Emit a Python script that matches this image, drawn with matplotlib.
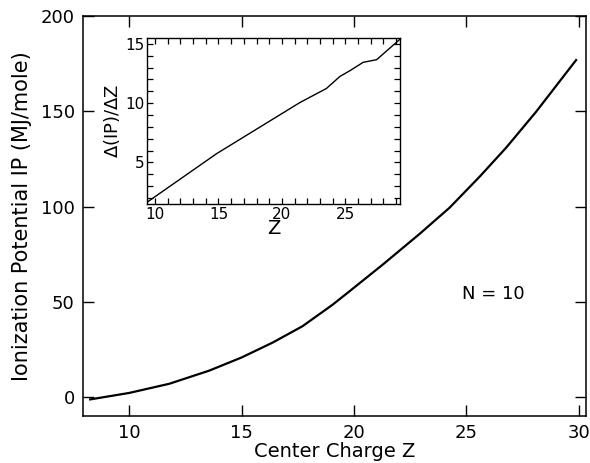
"""Ionization potential vs. center charge Z (N = 10), with inset of d(IP)/dZ."""

import matplotlib
matplotlib.use("Agg")
import matplotlib.pyplot as plt
from matplotlib.ticker import MultipleLocator

# ---------------------------------------------------------------------------
# Data
# ---------------------------------------------------------------------------
z_main = [8.26, 10.0, 11.78, 13.56, 15.0, 16.38, 17.71, 19.04, 19.81, 21.29,
          22.92, 24.25, 25.59, 26.77, 28.1, 29.88]
ip_main = [-1.0, 2.4, 7.2, 14.1, 21.0, 28.8, 37.4, 48.6, 55.8, 69.8,
           85.8, 99.5, 115.8, 131.0, 149.8, 176.9]

z_inset = [9.47, 14.86, 21.42, 23.5, 24.57, 25.35, 26.4, 27.46, 29.3]
dip_inset = [1.72, 5.75, 10.06, 11.24, 12.26, 12.74, 13.45, 13.67, 15.4]

main_xticks = [10, 15, 20, 25, 30]
main_yticks = [0, 50, 100, 150, 200]
inset_xticks = [10, 15, 20, 25]
inset_yticks = [5, 10, 15]

W, H, DPI = 590, 463, 100

fig = plt.figure(figsize=(W / DPI, H / DPI), dpi=DPI)

# ---------------------------------------------------------------------------
# Main axes
# ---------------------------------------------------------------------------
ax = fig.add_axes([83 / W, 1 - 416 / H, (586 - 83) / W, (416 - 16) / H])
ax.plot(z_main, ip_main, color="black", linewidth=1.6)
ax.set_xlim(7.94, 30.32)
ax.set_ylim(-9.7, 200)
ax.set_xticks(main_xticks)
ax.set_yticks(main_yticks)
ax.tick_params(direction="in", length=8, width=1, top=True, right=True,
               labelsize=13, pad=6)
for s in ax.spines.values():
    s.set_linewidth(1.1)
ax.set_xlabel("Center Charge Z", fontsize=14, labelpad=0)
ax.set_ylabel("Ionization Potential IP (MJ/mole)", fontsize=15, labelpad=6)
ax.text(26.2, 54, "N = 10", fontsize=13, ha="center", va="center")

# ---------------------------------------------------------------------------
# Inset
# ---------------------------------------------------------------------------
axi = fig.add_axes([147 / W, 1 - 204 / H, (400 - 147) / W, (204 - 38) / H])
axi.plot(z_inset, dip_inset, color="black", linewidth=1.0)
axi.set_xlim(9.37, 29.3)
axi.set_ylim(1.5, 15.5)
axi.set_xticks(inset_xticks)
axi.set_yticks(inset_yticks)
axi.xaxis.set_minor_locator(MultipleLocator(1))
axi.yaxis.set_minor_locator(MultipleLocator(1))
axi.tick_params(which="both", direction="in", length=4, width=0.9,
                top=True, right=True)
axi.tick_params(labelsize=11, pad=2)
for s in axi.spines.values():
    s.set_linewidth(1.0)
axi.set_xlabel("Z", fontsize=14, labelpad=-2)
axi.set_ylabel(r"$\Delta$(IP)/$\Delta$Z", fontsize=13, labelpad=2)

fig.savefig("out.png", dpi=DPI)
